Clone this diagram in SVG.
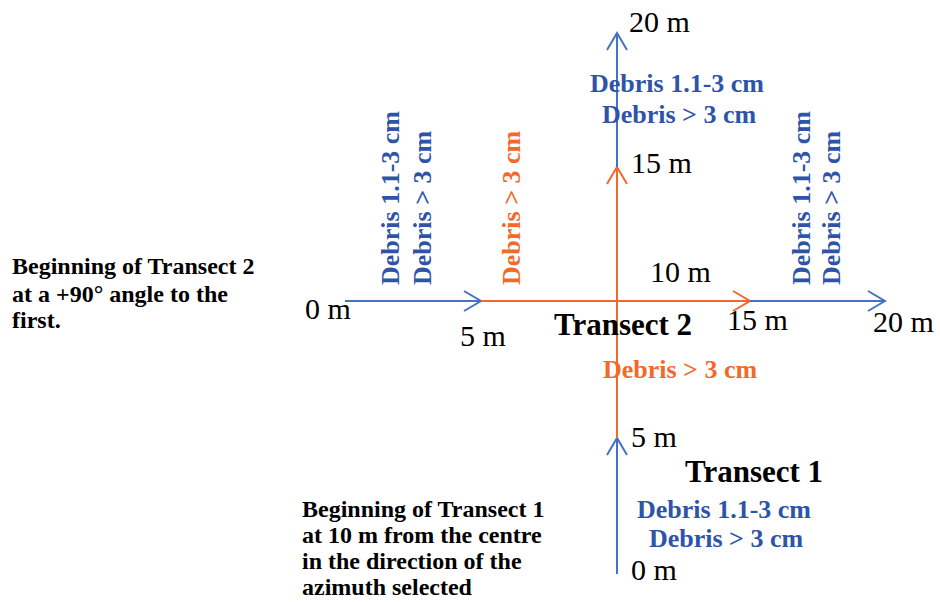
<svg xmlns="http://www.w3.org/2000/svg" width="940" height="602" viewBox="0 0 940 602">
<defs>
<style>
text{font-family:"Liberation Serif","Times New Roman",serif;}
.m{font-size:30px;fill:#000;}
.t{font-size:31px;font-weight:bold;fill:#000;}
.db{font-size:26px;font-weight:bold;fill:#2E54A8;}
.do{font-size:26px;font-weight:bold;fill:#F26A2B;}
.n{font-size:24px;font-weight:bold;fill:#000;}
.lb{stroke:#4472C4;stroke-width:2;fill:none;}
.lo{stroke:#F26A2B;stroke-width:2;fill:none;}
</style>
<marker id="ab" markerUnits="userSpaceOnUse" markerWidth="24" markerHeight="26" refX="20" refY="12" orient="auto" overflow="visible">
<path d="M3,2 L20,12 L3,22" stroke="#4472C4" stroke-width="2" fill="none"/>
</marker>
<marker id="ao" markerUnits="userSpaceOnUse" markerWidth="24" markerHeight="26" refX="20" refY="12" orient="auto" overflow="visible">
<path d="M3,2 L20,12 L3,22" stroke="#F26A2B" stroke-width="2" fill="none"/>
</marker>
</defs>
<rect width="940" height="602" fill="#fff"/>
<g id="connectors">
<line class="lb" x1="617" y1="574" x2="617" y2="438" marker-end="url(#ab)"/>
<line class="lo" x1="617" y1="438" x2="617" y2="167" marker-end="url(#ao)"/>
<line class="lb" x1="617" y1="167" x2="617" y2="33" marker-end="url(#ab)"/>
<line class="lb" x1="345" y1="301" x2="481" y2="301" marker-end="url(#ab)"/>
<line class="lo" x1="481" y1="301" x2="750" y2="301" marker-end="url(#ao)"/>
<line class="lb" x1="750" y1="301" x2="885" y2="301" marker-end="url(#ab)"/>
</g>
<g id="t1-labels">
<text class="m" x="631" y="580">0 m</text>
<text class="m" x="631" y="447">5 m</text>
<text class="t" x="685" y="482">Transect 1</text>
<text class="db" x="724" y="518" text-anchor="middle">Debris 1.1-3 cm</text>
<text class="db" x="726" y="547" text-anchor="middle">Debris &gt; 3 cm</text>
</g>
<g id="t1-mid">
<text class="do" x="680" y="378" text-anchor="middle">Debris &gt; 3 cm</text>
</g>
<g id="t1-top">
<text class="m" x="631" y="173">15 m</text>
<text class="m" x="629" y="32">20 m</text>
<text class="db" x="677" y="92" text-anchor="middle">Debris 1.1-3 cm</text>
<text class="db" x="679" y="123" text-anchor="middle">Debris &gt; 3 cm</text>
</g>
<g id="t2-labels">
<text class="m" x="305" y="319">0 m</text>
<text class="m" x="460" y="346">5 m</text>
<text class="m" x="650" y="282">10 m</text>
<text class="m" x="727" y="330">15 m</text>
<text class="m" x="873" y="332">20 m</text>
<text class="t" x="554" y="335">Transect 2</text>
</g>
<g id="t2-left">
<text class="db" transform="translate(399,285) rotate(-90)">Debris 1.1-3 cm</text>
<text class="db" transform="translate(431,285) rotate(-90)">Debris &gt; 3 cm</text>
</g>
<g id="t2-mid">
<text class="do" transform="translate(520,285) rotate(-90)">Debris &gt; 3 cm</text>
</g>
<g id="t2-right">
<text class="db" transform="translate(810,285) rotate(-90)">Debris 1.1-3 cm</text>
<text class="db" transform="translate(840,285) rotate(-90)">Debris &gt; 3 cm</text>
</g>
<g id="note-t2">
<text class="n" x="12" y="274">Beginning of Transect 2</text>
<text class="n" x="12" y="302">at a +90° angle to the</text>
<text class="n" x="12" y="328">first.</text>
</g>
<g id="note-t1">
<text class="n" x="302" y="517">Beginning of Transect 1</text>
<text class="n" x="302" y="543">at 10 m from the centre</text>
<text class="n" x="302" y="569">in the direction of the</text>
<text class="n" x="302" y="595">azimuth selected</text>
</g>
</svg>
